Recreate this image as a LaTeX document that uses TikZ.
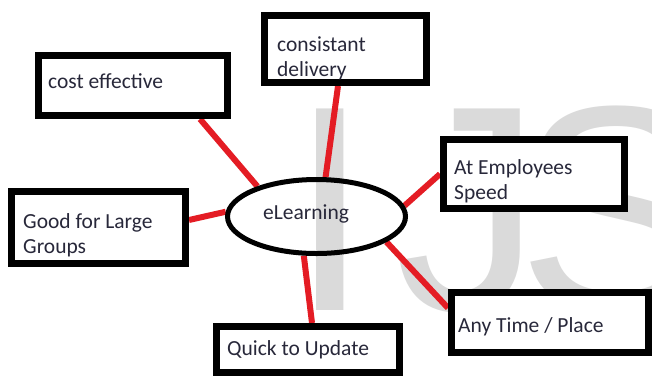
\documentclass[tikz,border=0pt]{standalone}
\usepackage{fontspec}
\setmainfont{Carlito}
\newfontfamily\wmfont{Liberation Sans}
\usetikzlibrary{shapes.geometric}
\pgfdeclarelayer{watermark}
\pgfdeclarelayer{links}
\pgfsetlayers{watermark,links,main}
\definecolor{linkred}{RGB}{228,28,36}
\definecolor{inkc}{RGB}{40,40,58}
\definecolor{wmgray}{RGB}{218,218,218}
\begin{document}
\begin{tikzpicture}[x=1pt,y=-1pt,
  topic/.style={draw=black, fill=white, line width=7pt, rectangle, inner sep=0pt},
  hub/.style={draw=black, line width=5pt, ellipse, inner sep=0pt,
    minimum width=178pt, minimum height=74pt},
  caption/.style={anchor=base west, inner sep=0pt, text=inkc,
    font=\fontsize{21.5}{25}\selectfont, align=left},
  wmletter/.style={anchor=base west, inner sep=0pt, text=wmgray,
    font=\wmfont\fontsize{293}{293}\selectfont},
  link/.style={draw=linkred, line width=6pt}]
\useasboundingbox (0,0) rectangle (652,376);

% background and watermark letters
\begin{pgfonlayer}{watermark}
  \fill[white] (0,0) rectangle (652,376);
  \node[wmletter] (wmI) at (289,310) {I};
  \node[wmletter] (wmJ) at (395,310) {J};
  \node[wmletter] (wmS) at (517,310) {S};
\end{pgfonlayer}

% topic boxes
\node[topic, minimum width=189pt, minimum height=60pt] (cost)    at (133,85.5)  {};
\node[topic, minimum width=162pt, minimum height=67pt] (deliv)   at (345.5,49)  {};
\node[topic, minimum width=181pt, minimum height=69pt] (speed)   at (534,174)   {};
\node[topic, minimum width=174pt, minimum height=72pt] (groups)  at (98.5,227.5) {};
\node[topic, minimum width=183pt, minimum height=46pt] (update)  at (308,349.5) {};
\node[topic, minimum width=197pt, minimum height=60pt] (anytime) at (550,322.5) {};

% central ellipse
\node[hub] (hub) at (316.5,216.5) {};

% box texts (a two-line text sits on the baseline of its last line)
\node[caption] (costT)    at (48,88)   {cost effective};
\node[caption] (delivT)   at (277,76)  {consistant\\delivery};
\node[caption] (speedT)   at (454,199) {At Employees\\Speed};
\node[caption] (groupsT)  at (23,253)  {Good for Large\\Groups};
\node[caption] (updateT)  at (227,355) {Quick to Update};
\node[caption] (anyT)     at (458,332) {Any Time / Place};
\node[caption] (hubT)     at (263,219) {eLearning};

% red connectors
\begin{pgfonlayer}{links}
  \draw[link] (hub.153)  -- ([xshift=67pt]cost.south);
  \draw[link] (hub.77.5) -- ([xshift=-7.5pt]deliv.south);
  \draw[link] (hub.7.4)  -- (speed.west);
  \draw[link] (hub.177.8)-- ([yshift=7.5pt]groups.east);
  \draw[link] (hub.252.5)-- ([xshift=4pt]update.north);
  \draw[link] (hub.340)  -- ([yshift=14.5pt]anytime.west);
\end{pgfonlayer}
\end{tikzpicture}
\end{document}
